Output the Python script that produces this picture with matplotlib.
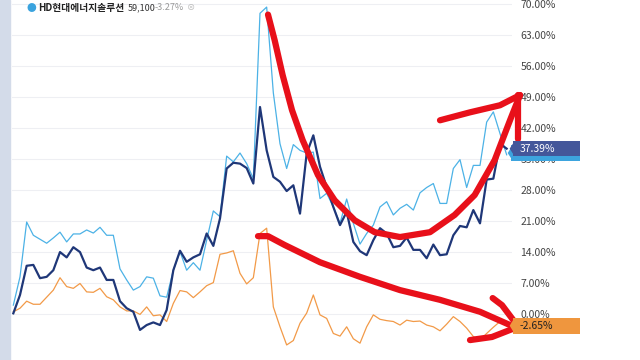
import numpy as np
import matplotlib
matplotlib.use("Agg")
import matplotlib.pyplot as plt
from matplotlib.patches import Rectangle, Polygon

plt.rcParams['font.family'] = ['Noto Sans CJK KR', 'DejaVu Sans']

# ── data (% change) ─────────────────────────────────────────
light = [2.0, 8.4, 20.8, 17.8, 16.9, 16.0, 17.2, 18.5, 16.3, 18.1,
         18.1, 19.0, 18.3, 19.6, 17.8, 17.8, 10.2, 7.7, 5.4, 6.2,
         8.4, 8.1, 4.1, 3.8, 9.9, 14.1, 9.9, 11.6, 9.9, 16.7,
         23.3, 22.0, 35.7, 34.4, 36.4, 34.0, 30.6, 68.0, 69.4, 50.0,
         38.5, 32.9, 38.3, 37.0, 36.4, 36.6, 26.1, 27.3, 24.2, 20.5,
         26.0, 20.5, 15.8, 18.2, 20.1, 24.2, 25.4, 22.4, 23.9, 24.8,
         23.5, 27.4, 28.6, 29.5, 25.0, 25.0, 32.9, 34.9, 28.6, 33.6,
         33.6, 43.4, 45.7, 40.8, 36.0]
navy = [0.15, 4.3, 10.9, 11.1, 8.1, 8.4, 9.9, 14.0, 12.8, 15.1,
        14.0, 10.5, 9.9, 10.5, 7.7, 7.7, 2.9, 1.3, 0.5, -3.6,
        -2.5, -1.9, -2.5, 0.9, 9.9, 14.3, 11.8, 12.8, 13.5, 18.2,
        15.4, 21.6, 32.9, 34.2, 34.0, 33.0, 29.5, 46.8, 37.0, 31.0,
        29.9, 27.8, 29.1, 22.7, 36.3, 40.4, 33.3, 28.7, 24.2, 20.1,
        23.1, 16.3, 14.2, 13.3, 16.7, 19.4, 18.2, 15.1, 15.4, 17.3,
        14.5, 14.5, 12.6, 15.7, 13.3, 13.5, 17.8, 19.9, 19.6, 23.5,
        20.5, 30.4, 30.6, 38.5, 37.39]
orange = [0.5, 1.3, 2.9, 2.2, 2.2, 3.8, 5.4, 8.2, 6.2, 5.8,
          6.9, 5.0, 4.9, 5.8, 3.9, 3.2, 1.6, 0.7, 0.7, -0.1,
          1.6, -0.4, -0.2, -1.7, 2.4, 5.3, 5.0, 3.7, 5.0, 6.4,
          7.1, 13.5, 13.8, 14.3, 9.2, 6.8, 8.2, 18.2, 19.4, 1.6,
          -2.9, -7.0, -6.0, -2.1, 0.2, 4.3, -0.2, -1.0, -4.4, -5.0,
          -2.9, -5.6, -6.6, -2.9, -0.2, -1.2, -1.5, -1.7, -2.5, -1.4,
          -1.7, -1.6, -2.5, -2.9, -3.8, -2.3, -0.6, -1.7, -3.2, -5.1,
          -5.9, -4.4, -3.0, -1.7, -2.65]
yticks = [0, 7, 14, 21, 28, 35, 42, 49, 56, 63, 70]

# hand-drawn red marks (index, %)
red1_x = [38.2, 39.2, 40.4, 41.8, 43.4, 45.7, 48.2, 51.2, 54.2, 58.0,
          62.5, 66.2, 69.2, 72.2, 74.5, 76.0]
red1_y = [67.7, 61.9, 54.0, 46.1, 39.3, 31.4, 25.7, 21.2, 18.5, 17.4,
          18.5, 22.4, 26.9, 34.8, 43.8, 49.5]
red2_x = [64.0, 68.5, 73.0, 76.0]
red2_y = [43.8, 45.6, 47.2, 49.5]
red3_x = [75.7, 75.7]
red3_y = [49.5, 39.5]
red4_x = [36.7, 38.2, 40.7, 46.0, 52.0, 58.0, 64.0, 70.0, 74.5]
red4_y = [17.6, 17.6, 15.6, 11.7, 8.4, 5.4, 3.2, 0.5, -2.5]
red5_x = [71.9, 73.3, 75.2]
red5_y = [3.6, 2.0, -1.8]
red6_x = [68.5, 71.8, 75.2]
red6_y = [-5.9, -5.2, -3.2]

x = np.arange(len(navy))

# ── plot ────────────────────────────────────────────────────
fig = plt.figure(figsize=(6.4, 3.6), dpi=100)
fig.patch.set_facecolor('white')
fig.patches.append(Rectangle((0, 0), 10 / 640, 1, transform=fig.transFigure,
                             color='#d3dbe9', zorder=0))

ax = fig.add_axes([12 / 640, 4 / 360, 500 / 640, 356 / 360])
ax.set_xlim(-0.2, 74.8)
ax.set_ylim(-9.5, 71)

ax.plot(x, light, color='#4cb2e6', lw=0.9, zorder=3)
ax.plot(x, orange, color='#f29a48', lw=0.9, zorder=3)
ax.plot(x, navy, color='#1f3778', lw=1.6, zorder=4)

ax.set_yticks(yticks)
ax.set_yticklabels([f'{v:.2f}%' for v in yticks])
ax.yaxis.tick_right()
ax.tick_params(axis='y', length=0, pad=6, labelsize=7.5, labelcolor='#444444')
ax.set_xticks([])
ax.grid(axis='y', color='#eeeff3', lw=0.8)
for s in ax.spines.values():
    s.set_visible(False)

# red annotations
for rx, ry in [(red1_x, red1_y), (red2_x, red2_y), (red3_x, red3_y),
               (red4_x, red4_y), (red5_x, red5_y), (red6_x, red6_y)]:
    ax.plot(rx, ry, color='#e8101a', lw=4.5, solid_capstyle='round',
            solid_joinstyle='round', zorder=6, clip_on=False)

# end-value tags: box with a left-pointing tip
def tag(y, text, fc, tc, z, x0=75.0, x1=85.0, h=1.75):
    ax.add_patch(Rectangle((x0, y - h), x1 - x0, 2 * h, fc=fc, ec='none',
                           zorder=z, clip_on=False))
    ax.add_patch(Polygon([(x0 - 0.55, y), (x0 + 0.05, y + h * 0.8),
                          (x0 + 0.05, y - h * 0.8)], closed=True, fc=fc,
                         ec='none', zorder=z, clip_on=False))
    if text:
        ax.text(x0 + 0.9, y, text, fontsize=7.5, color=tc, va='center',
                ha='left', zorder=z + 0.5, clip_on=False)

tag(light[-1] + 0.4, '', '#3da4de', 'white', 7, x0=74.7)
tag(navy[-1], '37.39%', '#44579a', 'white', 8)
tag(orange[-1], '-2.65%', '#ef963e', '#222222', 8, h=1.85)

# header
fig.text(31 / 640, 1 - 8 / 360, '●', color='#3aa3de', fontsize=7,
         va='center', ha='center')
fig.text(38 / 640, 1 - 8 / 360, 'HD현대에너지솔루션', fontsize=7, weight='bold',
         color='#222222', va='center')
fig.text(128 / 640, 1 - 8 / 360, '59,100', fontsize=6.5, color='#333333',
         va='center')
fig.text(155 / 640, 1 - 8 / 360, '-3.27%', fontsize=6.5, color='#999999',
         va='center')
fig.text(191 / 640, 1 - 8 / 360, '⊗', fontsize=6, color='#bbbbbb',
         va='center', ha='center')

fig.savefig('out.png', dpi=100, facecolor='white')
